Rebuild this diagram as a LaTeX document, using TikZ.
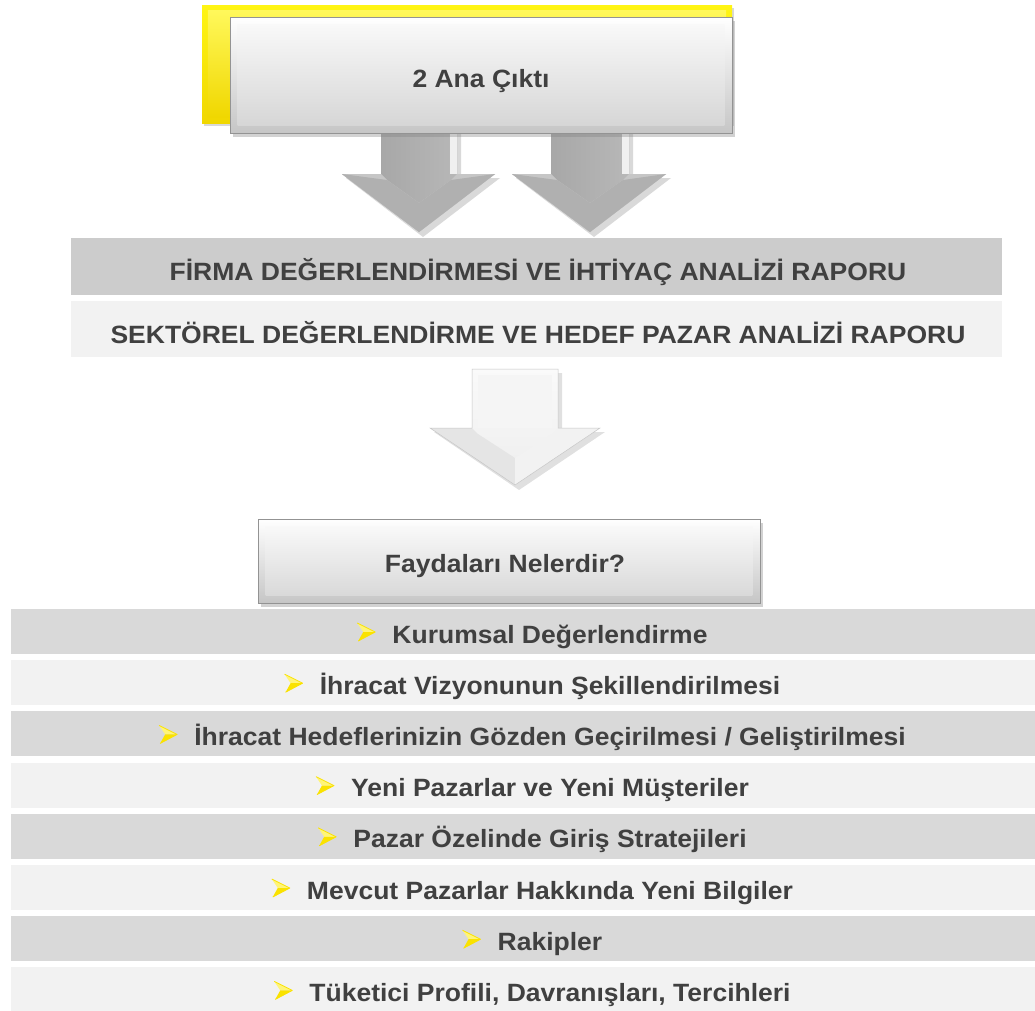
\documentclass[tikz,border=0pt]{standalone}
\usepackage{fontspec}
\setmainfont{Liberation Sans}[FakeStretch=1.06]
\usetikzlibrary{shadows,calc}
\definecolor{txt}{RGB}{64,64,64}
\definecolor{bardark}{RGB}{217,217,217}
\definecolor{barlight}{RGB}{242,242,242}
\definecolor{topdark}{RGB}{204,204,204}
\definecolor{ylwA}{RGB}{255,245,20}
\definecolor{ylwB}{RGB}{240,215,0}
\definecolor{bulA}{RGB}{255,245,120}
\definecolor{bulB}{RGB}{250,226,0}
\tikzset{
  lbl/.style={font=\fontsize{25}{30}\selectfont\bfseries, text=txt, inner sep=0pt, anchor=base},
  ybox/.style={inner sep=0pt, top color=ylwA, bottom color=ylwB, drop shadow={shadow xshift=2pt, shadow yshift=-3pt, opacity=.3}},
  gbox/.style={inner sep=0pt, top color=white, bottom color=gray!45, draw=gray!85, line width=0.6pt, drop shadow={shadow xshift=3pt, shadow yshift=-4pt, opacity=.35}},
  bullet/.pic={
    \fill[bulA] (-35,-20) -- (-17,-11) -- (-29,-11) -- cycle;
    \fill[bulB] (-29,-11) -- (-17,-11) -- (-34,-2) -- cycle;
    \draw[bulB, line width=0.8pt, line join=round] (-35,-20) -- (-17,-11) -- (-34,-2);
  }
}
\begin{document}
\begin{tikzpicture}[x=1pt,y=-1pt]
\useasboundingbox[fill=white] (0,0) rectangle (1035,1010);

% ---- top boxes ----
\node[ybox, minimum width=530pt, minimum height=118pt] (yb) at (467,64) {};
\shade[top color=ylwA!70!white, bottom color=ylwB] ($(yb.north west)+(6,6)$) rectangle ($(yb.south east)+(-6,-6)$);

% gray arrows (behind front box)
\fill[black, opacity=.15] (385,131) -- (461,131) -- (461,178) -- (500,178) -- (423,237) -- (346,178) -- (385,178) -- cycle;
\fill[black, opacity=.15] (555,131) -- (633,131) -- (633,178) -- (671,178) -- (594,237) -- (516,178) -- (555,178) -- cycle;
\shade[left color=gray!75, right color=gray!50] (381,131) -- (457,131) -- (457,174) -- (495,174) -- (419,232) -- (342,174) -- (381,174) -- cycle;
\shade[left color=gray!75, right color=gray!50] (551,131) -- (629,131) -- (629,174) -- (666,174) -- (590,232) -- (512,174) -- (551,174) -- cycle;
\fill[white, opacity=.8] (450,131) rectangle (457,174);
\fill[white, opacity=.8] (622,131) rectangle (629,174);
\fill[gray!45] (342,174) -- (381,174) -- (387,180) -- (419,203) -- (451,180) -- (457,174) -- (495,174) -- (419,232) -- cycle;
\fill[gray!45] (512,174) -- (551,174) -- (557,180) -- (590,203) -- (623,180) -- (629,174) -- (666,174) -- (590,232) -- cycle;
\fill[gray!62] (387,180) -- (419,203) -- (451,180) -- (495,174) -- (419,232) -- (342,174) -- cycle;
\fill[gray!62] (557,180) -- (590,203) -- (623,180) -- (666,174) -- (590,232) -- (512,174) -- cycle;

\node[gbox, minimum width=502pt, minimum height=116pt] (fb) at (481,75) {};
\shade[top color=gray!5, bottom color=gray!32] ($(fb.north west)+(8,8)$) rectangle ($(fb.south east)+(-8,-8)$);
\node[lbl] (ana) at (481,87) {2 Ana Çıktı};

% ---- report bars ----
\fill[topdark] (71,238) rectangle (1002,295);
\fill[barlight] (71,301) rectangle (1002,357);
\node[lbl] (r1) at (538,280) {FİRMA DEĞERLENDİRMESİ VE İHTİYAÇ ANALİZİ RAPORU};
\node[lbl] (r2) at (538,343) {SEKTÖREL DEĞERLENDİRME VE HEDEF PAZAR ANALİZİ RAPORU};

% ---- white arrow ----
\fill[black, opacity=.12] (476,373) -- (562,373) -- (562,432) -- (605,432) -- (519,490) -- (434,432) -- (476,432) -- cycle;
\shade[top color=gray!4, bottom color=gray!14] (472,369) -- (558,369) -- (558,428) -- (600,428) -- (515,485) -- (430,428) -- (472,428) -- cycle;
\fill[gray!8] (478,375) rectangle (552,428);
\fill[gray!20] (430,428) -- (472,428) -- (478,434) -- (515,458) -- (515,485) -- cycle;
\fill[gray!10] (600,428) -- (558,428) -- (552,434) -- (515,458) -- (515,485) -- cycle;
\draw[gray!45, line width=0.5pt] (472,369) -- (558,369) -- (558,428) -- (600,428) -- (515,485) -- (430,428) -- (472,428) -- cycle;

% ---- Faydalari box ----
\node[gbox, minimum width=502pt, minimum height=84pt] (fy) at (509,561) {};
\shade[top color=gray!5, bottom color=gray!30] ($(fy.north west)+(8,8)$) rectangle ($(fy.south east)+(-8,-8)$);
\node[lbl] (fay) at (505,572) {Faydaları Nelerdir?};

% ---- list bars ----
\fill[bardark]  (11,609.0) rectangle (1035,654.0);
\fill[barlight] (11,660.2) rectangle (1035,705.2);
\fill[bardark]  (11,711.4) rectangle (1035,756.4);
\fill[barlight] (11,762.6) rectangle (1035,807.6);
\fill[bardark]  (11,813.8) rectangle (1035,858.8);
\fill[barlight] (11,865.0) rectangle (1035,910.0);
\fill[bardark]  (11,916.2) rectangle (1035,961.2);
\fill[barlight] (11,967.4) rectangle (1035,1012.4);

\node[lbl] (l1) at (550,643.0) {Kurumsal Değerlendirme};
\node[lbl] (l2) at (550,694.2) {İhracat Vizyonunun Şekillendirilmesi};
\node[lbl] (l3) at (550,745.4) {İhracat Hedeflerinizin Gözden Geçirilmesi / Geliştirilmesi};
\node[lbl] (l4) at (550,796.6) {Yeni Pazarlar ve Yeni Müşteriler};
\node[lbl] (l5) at (550,847.8) {Pazar Özelinde Giriş Stratejileri};
\node[lbl] (l6) at (550,899.0) {Mevcut Pazarlar Hakkında Yeni Bilgiler};
\node[lbl] (l7) at (550,950.2) {Rakipler};
\node[lbl] (l8) at (550,1001.4) {Tüketici Profili, Davranışları, Tercihleri};
\foreach \n in {l1,l2,l3,l4,l5,l6,l7,l8} {
  \path (\n.base west) pic {bullet};
}
\end{tikzpicture}
\end{document}
